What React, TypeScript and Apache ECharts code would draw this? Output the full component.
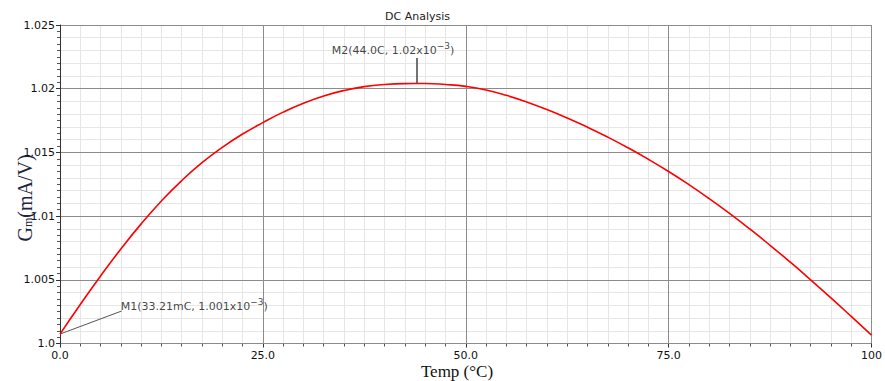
import React, { useEffect, useRef } from "react";
import * as echarts from "echarts";

const temps = [0, 2.5, 5, 7.5, 10, 12.5, 15, 17.5, 20, 22.5, 25, 27.5, 30, 32.5, 35, 37.5, 40, 42.5, 45, 47.5, 50, 52.5, 55, 57.5, 60, 62.5, 65, 67.5, 70, 72.5, 75, 77.5, 80, 82.5, 85, 87.5, 90, 92.5, 95, 97.5, 100];
const gm = [1.00074, 1.00306, 1.0053, 1.00742, 1.00939, 1.01119, 1.01279, 1.01419, 1.0154, 1.01644, 1.01734, 1.01816, 1.01886, 1.01943, 1.01986, 1.02016, 1.02033, 1.0204, 1.02041, 1.02033, 1.02018, 1.0199, 1.01948, 1.01896, 1.01836, 1.0177, 1.01698, 1.0162, 1.01536, 1.01446, 1.0135, 1.01247, 1.01137, 1.01021, 1.00899, 1.00771, 1.00638, 1.005, 1.00358, 1.00213, 1.00066];

const xTickLabels = ["0.0", "25.0", "50.0", "75.0", "100"];
const yTickLabels = ["1.0", "1.005", "1.01", "1.015", "1.02", "1.025"];

const m1Point = [0, 1.00074];
const m1Anchor = [7.6, 1.00255];
const m1Text = ["M1(33.21mC, 1.001x10", "\u22123", ")"];
const m2Point = [44, 1.0204];
const m2Anchor = [44, 1.0224];
const m2Text = ["M2(44.0C, 1.02x10", "\u22123", ")"];

const richMarker = {
  b: { fontFamily: "DejaVu Sans", fontSize: 11, color: "#111" },
  s: { fontFamily: "DejaVu Sans", fontSize: 9, color: "#111", padding: [0, 0, 9, 0] },
};

export default function App() {
  const ref = useRef<HTMLDivElement>(null);
  useEffect(() => {
    document.body.style.margin = "0";
    const chart = echarts.init(ref.current!, undefined, { renderer: "svg" });
    const data = temps.map((t, i) => [t, gm[i]]);
    chart.setOption({
      animation: false,
      backgroundColor: "#ffffff",
      title: {
        text: "DC Analysis",
        left: 380,
        top: 6,
        textStyle: { fontFamily: "DejaVu Sans", fontSize: 11, fontWeight: "normal", color: "#222" },
      },
      grid: { left: 60, right: 12, top: 25, bottom: 37.5, containLabel: false },
      xAxis: {
        type: "value",
        min: 0,
        max: 100,
        interval: 25,
        axisLine: { show: true, lineStyle: { color: "#333", width: 1 } },
        axisTick: { show: true, length: 4, lineStyle: { color: "#333" } },
        minorTick: { show: true, splitNumber: 10, length: 3, lineStyle: { color: "#555" } },
        splitLine: { show: true, lineStyle: { color: "#8c8c8c", width: 1 } },
        minorSplitLine: { show: true, lineStyle: { color: "#e6e6e6", width: 1 } },
        axisLabel: {
          margin: 6,
          color: "#111",
          fontFamily: "DejaVu Sans",
          fontSize: 11,
          formatter: (v: number) => xTickLabels[Math.round(v / 25)] ?? "",
        },
      },
      yAxis: [
        {
          type: "value",
          min: 1.0,
          max: 1.025,
          interval: 0.005,
          z: 3,
          axisLine: { show: true, lineStyle: { color: "#333", width: 1 } },
          axisTick: { show: true, length: 4, lineStyle: { color: "#333" } },
          minorTick: { show: true, splitNumber: 10, length: 3, lineStyle: { color: "#555" } },
          splitLine: { show: true, lineStyle: { color: "#8c8c8c", width: 1 } },
          axisLabel: {
            margin: 5,
            color: "#111",
            fontFamily: "DejaVu Sans",
            fontSize: 11,
            formatter: (v: number) => yTickLabels[Math.round((v - 1) / 0.005)] ?? "",
          },
        },
        {
          type: "value",
          min: 1.0,
          max: 1.025,
          interval: 0.001,
          z: 0,
          position: "left",
          axisLine: { show: false },
          axisTick: { show: false },
          axisLabel: { show: false },
          splitLine: { show: true, lineStyle: { color: "#e6e6e6", width: 1 } },
        },
      ],
      series: [
        {
          type: "line",
          data,
          smooth: 0.5,
          symbol: "none",
          z: 5,
          lineStyle: { color: "#ff0000", width: 1.6 },
          markLine: {
            silent: true,
            symbol: "none",
            label: { show: false },
            data: [
              [
                { coord: m1Point, lineStyle: { color: "#555", width: 1 } },
                { coord: m1Anchor },
              ],
              [
                { coord: m2Point, lineStyle: { color: "#444", width: 1.5 } },
                { coord: m2Anchor },
              ],
            ],
            lineStyle: { type: "solid" },
          },
        },
        {
          type: "scatter",
          symbolSize: 0,
          silent: true,
          z: 6,
          data: [
            {
              value: m1Anchor,
              label: {
                show: true,
                position: "right",
                distance: 0,
                offset: [-1, -5],
                formatter: `{b|${m1Text[0]}}{s|${m1Text[1]}}{b|${m1Text[2]}}`,
                rich: richMarker,
              },
            },
            {
              value: m2Anchor,
              label: {
                show: true,
                position: "top",
                distance: 0,
                offset: [-24, 1],
                formatter: `{b|${m2Text[0]}}{s|${m2Text[1]}}{b|${m2Text[2]}}`,
                rich: richMarker,
              },
            },
          ],
        },
      ],
      graphic: [
        {
          type: "text",
          x: 25,
          y: 198,
          rotation: Math.PI / 2,
          style: {
            text: "{g|G}{s|m}{g|(mA/V)}",
            align: "center",
            verticalAlign: "middle",
            rich: {
              g: { fontFamily: "Liberation Serif", fontSize: 20, fill: "#1c2540" },
              s: { fontFamily: "Liberation Serif", fontSize: 12, fill: "#1c2540", padding: [5, 0, 0, 0] },
            },
          },
        },
        {
          type: "text",
          x: 457,
          y: 371,
          style: {
            text: "Temp (\u00B0C)",
            align: "center",
            verticalAlign: "middle",
            fontFamily: "Liberation Serif",
            fontSize: 17,
            fill: "#111",
          },
        },
      ],
    });
    return () => chart.dispose();
  }, []);
  return <div ref={ref} style={{ width: 885, height: 381 }} />;
}
